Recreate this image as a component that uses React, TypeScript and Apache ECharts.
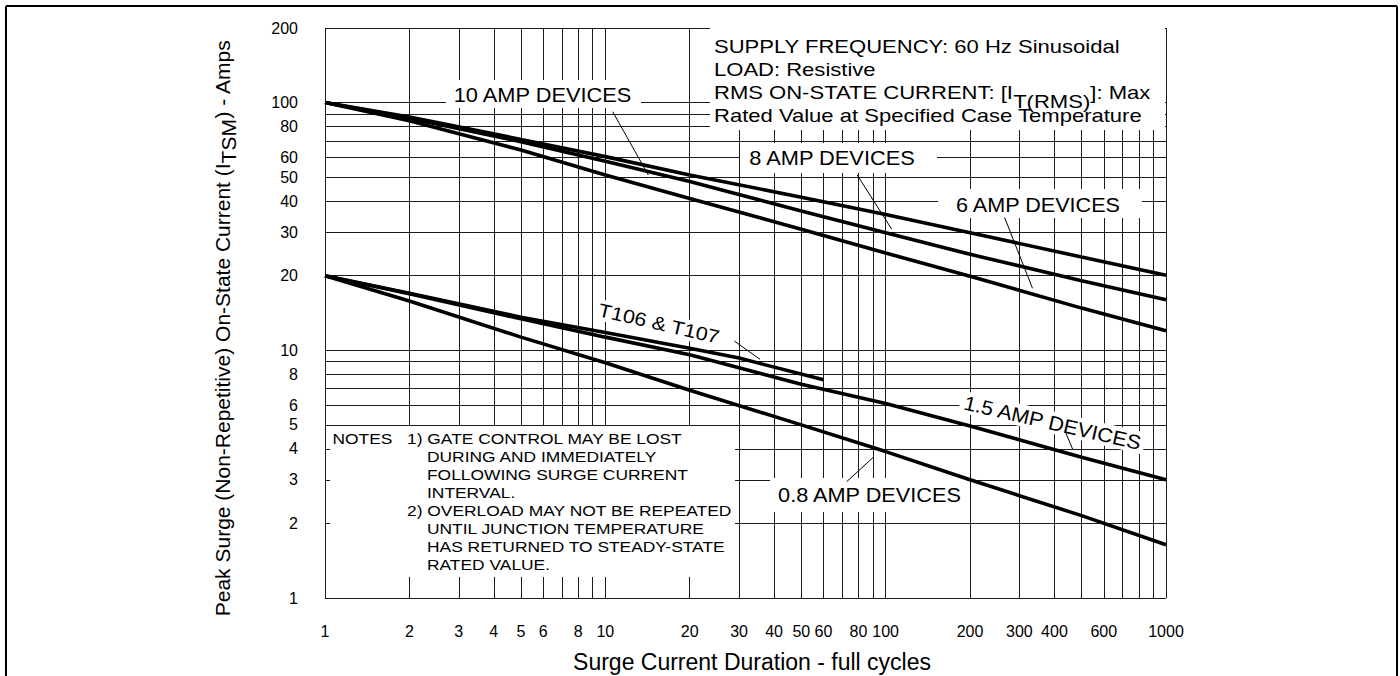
import React, { useEffect, useRef } from "react";
import * as echarts from "echarts";

// ---- data ----
const cycles = [1, 2, 5, 10, 20, 50, 100, 200, 500, 1000];
const amp10 = [100, 87.5, 71, 60.5, 51, 41.5, 35.3, 29.8, 23.8, 20.1];
const amp8 = [100, 86.5, 69.5, 58, 48, 36.5, 29.8, 24.4, 19.1, 16];
const amp6 = [100, 84.5, 64.3, 51, 41, 30.8, 24.7, 19.9, 14.8, 12];
const amp1p5 = [20, 16.9, 13.4, 11.3, 9.6, 7.3, 6.1, 4.95, 3.7, 3.0];
const amp0p8 = [20, 15.8, 11.3, 8.9, 6.9, 5.0, 3.9, 3.0, 2.15, 1.64];
const t106Cycles = [1, 2, 5, 10, 20, 30, 60];
const t106 = [20, 17.0, 13.6, 11.8, 10.2, 9.3, 7.6];

const xTickLabels = [1, 2, 3, 4, 5, 6, 8, 10, 20, 30, 40, 50, 60, 80, 100, 200, 300, 400, 600, 1000];
const yTickLabels = [1, 2, 3, 4, 5, 6, 8, 10, 20, 30, 40, 50, 60, 80, 100, 200];
const xGridValues = [1, 2, 3, 4, 5, 6, 7, 8, 9, 10, 20, 30, 40, 50, 60, 70, 80, 90, 100, 200, 300, 400, 500, 600, 700, 800, 900, 1000];
const yGridValues = [1, 2, 3, 4, 5, 6, 7, 8, 9, 10, 20, 30, 40, 50, 60, 70, 80, 90, 100, 200];

const FONT = '"Liberation Sans", Arial, Helvetica, sans-serif';

function pairs(xs: number[], ys: number[]) {
  return xs.map((x, i) => [x, ys[i]]);
}

function txt(text: string, x: number, y: number, size: number, sx: number, align = "center", extra: any = {}) {
  return {
    type: "text",
    x,
    y,
    scaleX: sx,
    z: 4,
    ...extra,
    style: {
      text,
      fontSize: size,
      fontFamily: FONT,
      fill: "#000",
      align,
      verticalAlign: "middle",
      textAlign: align,
      textVerticalAlign: "middle",
      ...(extra.style || {}),
    },
  };
}

function box(x1: number, y1: number, x2: number, y2: number) {
  return { type: "rect", z: 3, shape: { x: x1, y: y1, width: x2 - x1, height: y2 - y1 }, style: { fill: "#fff" } };
}

function seg(x1: number, y1: number, x2: number, y2: number, w = 1) {
  return { type: "line", z: 6, shape: { x1, y1, x2, y2 }, style: { stroke: "#000", lineWidth: w } };
}

const deg = Math.PI / 180;

function curve(name: string, data: number[][]) {
  return {
    name,
    type: "line",
    data,
    z: 5,
    showSymbol: false,
    symbol: "none",
    silent: true,
    lineStyle: { color: "#000", width: 3.6 },
  };
}

export default function App() {
  const ref = useRef<HTMLDivElement>(null);
  useEffect(() => {
    const chart = echarts.init(ref.current!, null, { renderer: "svg" });
    const noteLines = [
      ["1) GATE CONTROL MAY BE LOST", 407, 438.3],
      ["DURING AND IMMEDIATELY", 427, 456.2],
      ["FOLLOWING SURGE CURRENT", 427, 474.2],
      ["INTERVAL.", 427, 492.2],
      ["2) OVERLOAD MAY NOT BE REPEATED", 407, 510.2],
      ["UNTIL JUNCTION TEMPERATURE", 427, 528.2],
      ["HAS RETURNED TO STEADY-STATE", 427, 546.2],
      ["RATED VALUE.", 427, 564.2],
    ] as [string, number, number][];

    const option: any = {
      animation: false,
      backgroundColor: "#fff",
      grid: { left: 325, top: 28, right: 234, bottom: 78, containLabel: false, outerBoundsMode: "none" },
      xAxis: {
        type: "log",
        logBase: 10,
        min: 1,
        max: 1000,
        name: "Surge Current Duration - full cycles",
        nameLocation: "middle",
        nameGap: 52,
        nameMoveOverlap: false,
        nameTextStyle: { fontSize: 23, fontFamily: FONT, color: "#000", padding: [0, 0, 0, 13] },
        axisLine: { show: false },
        axisTick: { show: false, customValues: xGridValues },
        axisLabel: {
          customValues: xTickLabels,
          formatter: (v: number) => String(v),
          margin: 25,
          fontSize: 16,
          fontFamily: FONT,
          color: "#000",
        },
        splitLine: { show: true, lineStyle: { color: "#1a1a1a", width: 1 } },
      },
      yAxis: {
        type: "log",
        logBase: 10,
        min: 1,
        max: 200,
        name: "{n|Peak Surge (Non-Repetitive) On-State Current (I}{s|TSM}{n|) - Amps}",
        nameLocation: "middle",
        nameGap: 86,
        nameMoveOverlap: false,
        nameTextStyle: {
          fontSize: 21,
          fontFamily: FONT,
          color: "#000",
          padding: [0, 30, 0, 0],
          rich: {
            n: { fontSize: 21, fontFamily: FONT, color: "#000", padding: [0, 0, 6, 0], verticalAlign: "middle" },
            s: { fontSize: 21, fontFamily: FONT, color: "#000", padding: [6, 0, 0, 0], verticalAlign: "middle" },
          },
        },
        axisLine: { show: false },
        axisTick: { show: false, customValues: yGridValues },
        axisLabel: {
          customValues: yTickLabels,
          formatter: (v: number) => String(v),
          margin: 27,
          fontSize: 16,
          fontFamily: FONT,
          color: "#000",
          padding: [0, 0, 6, 0],
        },
        splitLine: { show: true, lineStyle: { color: "#1a1a1a", width: 1 } },
      },
      series: [
        curve("10 AMP DEVICES", pairs(cycles, amp10)),
        curve("8 AMP DEVICES", pairs(cycles, amp8)),
        curve("6 AMP DEVICES", pairs(cycles, amp6)),
        curve("T106 & T107", pairs(t106Cycles, t106)),
        curve("1.5 AMP DEVICES", pairs(cycles, amp1p5)),
        curve("0.8 AMP DEVICES", pairs(cycles, amp0p8)),
      ],
      graphic: {
        elements: [
          // outer frame
          seg(6, 6, 1397, 6, 2),
          seg(6, 6, 6, 676, 2),
          seg(1397, 6, 1397, 676, 2),
          // white boxes hiding the grid behind the annotations
          box(710, 28, 1165, 130),
          box(330, 426, 735, 577),
          box(446, 80, 641, 108),
          box(740, 143, 937, 173),
          box(938, 189, 1142, 218),
          box(770, 478, 967, 512),
          // info box
          txt("SUPPLY FREQUENCY: 60 Hz Sinusoidal", 714, 46, 19, 1.16, "left"),
          txt("LOAD: Resistive", 714, 68.8, 19, 1.16, "left"),
          txt("{n|RMS ON-STATE CURRENT: [I}{s|T(RMS)}{n|]: Max}", 714, 96.2, 19, 1.16, "left", {
            style: {
              rich: {
                n: { fontSize: 19, fontFamily: FONT, fill: "#000", padding: [0, 0, 9, 0], verticalAlign: "middle" },
                s: { fontSize: 19, fontFamily: FONT, fill: "#000", padding: [9, 0, 0, 0], verticalAlign: "middle" },
              },
            },
          }),
          txt("Rated Value at Specified Case Temperature", 714, 115, 19, 1.16, "left"),
          // notes
          txt("NOTES", 332.5, 438.3, 15, 1.16, "left"),
          ...noteLines.map(([t, x, y]) => txt(t, x, y, 15, 1.16, "left")),
          // curve labels
          txt("10 AMP DEVICES", 542.5, 94.5, 20, 1.09),
          txt("8 AMP DEVICES", 832, 157.5, 20, 1.09),
          txt("6 AMP DEVICES", 1038, 204.5, 20, 1.08),
          txt("0.8 AMP DEVICES", 869.5, 495, 20, 1.085),
          txt("T106 & T107", 659, 323.5, 19, 1.13, "center", {
            rotation: -13 * deg,
            style: { backgroundColor: "#fff", padding: [1, 3] },
          }),
          txt("1.5 AMP DEVICES", 1052.5, 422.5, 20, 1.075, "center", {
            rotation: -13 * deg,
            style: { backgroundColor: "#fff", padding: [1, 3] },
          }),
          // leader lines
          seg(612.7, 111.7, 648.3, 175),
          seg(857.2, 175, 891.6, 229),
          seg(1004.5, 217.3, 1032.5, 288.3),
          seg(734.3, 341, 760, 359.3),
          seg(1066, 433.3, 1072.7, 449.3),
          seg(846.7, 481.7, 873.3, 457.3),
        ],
      },
    };
    chart.setOption(option);
    return () => chart.dispose();
  }, []);
  return (
    <div
      ref={ref}
      style={{ position: "absolute", left: 0, top: 0, width: 1400, height: 676, background: "#fff" }}
    />
  );
}
